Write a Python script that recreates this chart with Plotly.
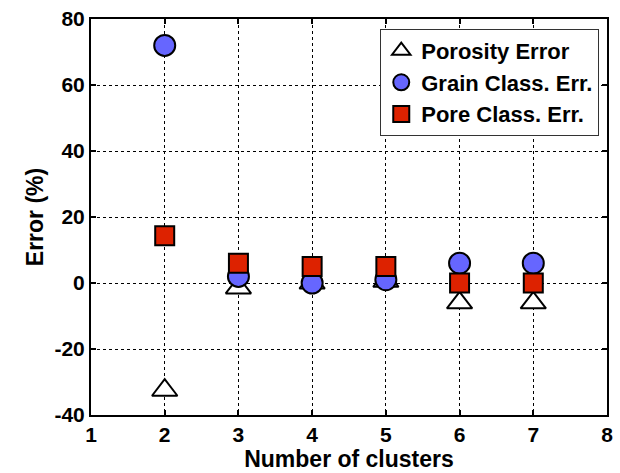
import plotly.graph_objects as go

clusters = [2, 3, 4, 5, 6, 7]
porosity_err = [-32.5, -1.5, 0.0, 0.5, -6.0, -6.0]
grain_err = [72.0, 2.0, 0.0, 1.0, 6.0, 6.0]
pore_err = [14.3, 6.0, 5.0, 5.0, 0.0, 0.0]

x_ticks = [1, 2, 3, 4, 5, 6, 7, 8]
y_ticks = [-40, -20, 0, 20, 40, 60, 80]
y_tick_text = ["-40", "-20", "0", "20", "40", "60", "80"]

font_family = "Liberation Sans, Arial, sans-serif"

fig = go.Figure()
fig.add_trace(go.Scatter(
    x=clusters, y=porosity_err, mode="markers", name="Porosity Error",
    marker=dict(symbol="triangle-up", size=22, color="white",
                line=dict(color="black", width=2)),
))
fig.add_trace(go.Scatter(
    x=clusters, y=grain_err, mode="markers", name="Grain Class. Err.",
    marker=dict(symbol="circle", size=21, color="#6666ff",
                line=dict(color="black", width=2)),
))
fig.add_trace(go.Scatter(
    x=clusters, y=pore_err, mode="markers", name="Pore Class. Err.",
    marker=dict(symbol="square", size=19, color="#dd2200",
                line=dict(color="black", width=2)),
))

axis_common = dict(
    showline=True, linecolor="black", linewidth=2, mirror="ticks",
    ticks="inside", ticklen=5, tickwidth=1.5, tickcolor="black",
    showgrid=True, gridcolor="black", gridwidth=1, griddash="dot",
    zeroline=False,
    tickfont=dict(family=font_family, size=21, color="black", weight="bold"),
    title_font=dict(family=font_family, size=23, color="black", weight="bold"),
)

fig.update_layout(
    width=620, height=473,
    margin=dict(l=91, r=7, t=17, b=58),
    paper_bgcolor="white", plot_bgcolor="white",
    xaxis=dict(range=[1, 8], tickvals=x_ticks,
               title=dict(text="Number of clusters", standoff=0), **axis_common),
    yaxis=dict(range=[-40, 80], tickvals=y_ticks, ticktext=y_tick_text,
               title=dict(text="Error (%)", standoff=4), **axis_common),
    legend=dict(
        x=0.985, y=0.975, xanchor="right", yanchor="top",
        bgcolor="white", bordercolor="#333333", borderwidth=1,
        font=dict(family=font_family, size=22, color="black", weight="bold"),
        itemsizing="trace",
    ),
    showlegend=True,
)

fig.write_html("out.html")
